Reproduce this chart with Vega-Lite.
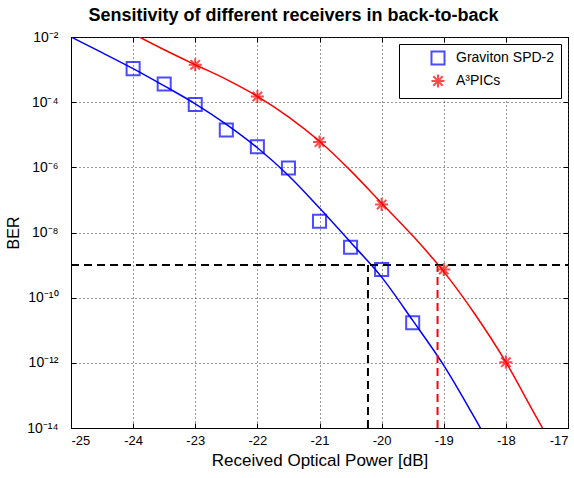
{
  "$schema": "https://vega.github.io/schema/vega-lite/v6.json",
  "width": 497,
  "height": 391,
  "autosize": {"type": "none"},
  "padding": {"left": 71, "top": 37, "right": 6, "bottom": 50},
  "background": "white",
  "title": {"text": "Sensitivity of different receivers in back-to-back", "fontSize": 18, "fontWeight": "bold", "font": "Liberation Sans", "color": "black", "anchor": "middle", "frame": "group", "dx": -26, "offset": 5},
  "config": {
    "font": "Liberation Sans",
    "view": {"stroke": "black"},
    "axis": {"domainColor": "black", "tickColor": "black", "labelColor": "black", "titleColor": "black", "labelFont": "Liberation Sans", "titleFont": "Liberation Sans", "titleFontWeight": "normal"}
  },
  "datasets": {
    "markers": [
      {"series": "Graviton SPD-2", "power": -24, "ber": 1.07e-3},
      {"series": "Graviton SPD-2", "power": -23.5, "ber": 3.6e-4},
      {"series": "Graviton SPD-2", "power": -23, "ber": 8.5e-5},
      {"series": "Graviton SPD-2", "power": -22.5, "ber": 1.4e-5},
      {"series": "Graviton SPD-2", "power": -22, "ber": 4.3e-6},
      {"series": "Graviton SPD-2", "power": -21.5, "ber": 9.5e-7},
      {"series": "Graviton SPD-2", "power": -21, "ber": 2.2e-8},
      {"series": "Graviton SPD-2", "power": -20.5, "ber": 3.5e-9},
      {"series": "Graviton SPD-2", "power": -20, "ber": 7.3e-10},
      {"series": "Graviton SPD-2", "power": -19.5, "ber": 1.7e-11},
      {"series": "A³PICs", "power": -23, "ber": 1.4e-3},
      {"series": "A³PICs", "power": -22, "ber": 1.5e-4},
      {"series": "A³PICs", "power": -21, "ber": 6.0e-6},
      {"series": "A³PICs", "power": -20, "ber": 7.2e-8},
      {"series": "A³PICs", "power": -19, "ber": 7.3e-10},
      {"series": "A³PICs", "power": -18, "ber": 1.05e-12}
    ],
    "curves": [
      {"series": "Graviton SPD-2", "power": -25, "ber": 1e-2},
      {"series": "Graviton SPD-2", "power": -24.5, "ber": 3.31e-3},
      {"series": "Graviton SPD-2", "power": -24, "ber": 1.07e-3},
      {"series": "Graviton SPD-2", "power": -23.5, "ber": 3.16e-4},
      {"series": "Graviton SPD-2", "power": -23, "ber": 8.91e-5},
      {"series": "Graviton SPD-2", "power": -22.5, "ber": 2.09e-5},
      {"series": "Graviton SPD-2", "power": -22, "ber": 3.98e-6},
      {"series": "Graviton SPD-2", "power": -21.5, "ber": 5.62e-7},
      {"series": "Graviton SPD-2", "power": -21, "ber": 5.62e-8},
      {"series": "Graviton SPD-2", "power": -20.5, "ber": 5.01e-9},
      {"series": "Graviton SPD-2", "power": -20, "ber": 4.27e-10},
      {"series": "Graviton SPD-2", "power": -19.5, "ber": 2.0e-11},
      {"series": "Graviton SPD-2", "power": -19, "ber": 8.32e-13},
      {"series": "Graviton SPD-2", "power": -18.5, "ber": 2.0e-14},
      {"series": "Graviton SPD-2", "power": -18.41, "ber": 1e-14},
      {"series": "A³PICs", "power": -23.9, "ber": 1e-2},
      {"series": "A³PICs", "power": -23.5, "ber": 4.07e-3},
      {"series": "A³PICs", "power": -23, "ber": 1.41e-3},
      {"series": "A³PICs", "power": -22.5, "ber": 5.01e-4},
      {"series": "A³PICs", "power": -22, "ber": 1.51e-4},
      {"series": "A³PICs", "power": -21.5, "ber": 3.55e-5},
      {"series": "A³PICs", "power": -21, "ber": 6.31e-6},
      {"series": "A³PICs", "power": -20.5, "ber": 7.94e-7},
      {"series": "A³PICs", "power": -20, "ber": 7.94e-8},
      {"series": "A³PICs", "power": -19.5, "ber": 7.94e-9},
      {"series": "A³PICs", "power": -19, "ber": 6.31e-10},
      {"series": "A³PICs", "power": -18.5, "ber": 3.16e-11},
      {"series": "A³PICs", "power": -18, "ber": 1.05e-12},
      {"series": "A³PICs", "power": -17.5, "ber": 2.0e-14},
      {"series": "A³PICs", "power": -17.41, "ber": 1e-14}
    ],
    "guides": [
      {"line": "threshold", "x": -25, "x2": -17, "y": 1e-9, "y2": 1e-9},
      {"line": "graviton", "x": -20.22, "x2": -20.22, "y": 1e-14, "y2": 1e-9},
      {"line": "a3pics", "x": -19.1, "x2": -19.1, "y": 1e-14, "y2": 1e-9}
    ]
  },
  "layer": [
    {
      "data": {"name": "curves"},
      "transform": [{"filter": "datum.series == 'Graviton SPD-2'"}],
      "mark": {"type": "line", "color": "#0000ff", "strokeWidth": 1.5, "interpolate": "monotone", "clip": true},
      "encoding": {
        "x": {"field": "power", "type": "quantitative", "scale": {"domain": [-25, -17], "nice": false, "zero": false},
          "axis": {"orient": "bottom", "values": [-25, -24, -23, -22, -21, -20, -19, -18, -17], "labelExpr": "datum.value + ''", "title": "Received Optical Power [dB]", "titleFontSize": 17, "labelFontSize": 13, "tickSize": -5, "labelPadding": 11, "titlePadding": 5, "grid": true, "gridDash": [1, 3], "gridColor": "#333333"}},
        "y": {"field": "ber", "type": "quantitative", "scale": {"type": "log", "domain": [1e-14, 1e-2], "nice": false},
          "axis": {"orient": "left", "values": [1e-2, 1e-4, 1e-6, 1e-8, 1e-10, 1e-12, 1e-14], "labelExpr": "round(log(datum.value)/LN10) == -2 ? '10⁻²' : round(log(datum.value)/LN10) == -4 ? '10⁻⁴' : round(log(datum.value)/LN10) == -6 ? '10⁻⁶' : round(log(datum.value)/LN10) == -8 ? '10⁻⁸' : round(log(datum.value)/LN10) == -10 ? '10⁻¹⁰' : round(log(datum.value)/LN10) == -12 ? '10⁻¹²' : '10⁻¹⁴'", "title": "BER", "titleFontSize": 16, "labelFontSize": 14, "tickSize": -5, "labelPadding": 18, "titlePadding": 5, "grid": true, "gridDash": [1, 3], "gridColor": "#333333"}}
      }
    },
    {
      "data": {"name": "curves"},
      "transform": [{"filter": "datum.series == 'A³PICs'"}],
      "mark": {"type": "line", "color": "#ff0000", "strokeWidth": 1.5, "interpolate": "monotone", "clip": true},
      "encoding": {
        "x": {"field": "power", "type": "quantitative", "axis": null},
        "y": {"field": "ber", "type": "quantitative", "axis": null}
      }
    },
    {
      "data": {"name": "guides"},
      "transform": [{"filter": "datum.line != 'a3pics'"}],
      "mark": {"type": "rule", "color": "black", "strokeWidth": 2, "strokeDash": [8, 5]},
      "encoding": {
        "x": {"field": "x", "type": "quantitative", "axis": null},
        "x2": {"field": "x2"},
        "y": {"field": "y", "type": "quantitative", "axis": null},
        "y2": {"field": "y2"}
      }
    },
    {
      "data": {"name": "guides"},
      "transform": [{"filter": "datum.line == 'a3pics'"}],
      "mark": {"type": "rule", "color": "#ff0000", "strokeWidth": 2, "strokeDash": [8, 5]},
      "encoding": {
        "x": {"field": "x", "type": "quantitative", "axis": null},
        "x2": {"field": "x2"},
        "y": {"field": "y", "type": "quantitative", "axis": null},
        "y2": {"field": "y2"}
      }
    },
    {
      "data": {"name": "markers"},
      "mark": {"type": "point", "filled": false, "strokeWidth": 2, "size": 170},
      "encoding": {
        "x": {"field": "power", "type": "quantitative",
          "axis": {"orient": "top", "values": [-25, -24, -23, -22, -21, -20, -19, -18, -17], "labels": false, "domain": false, "grid": false, "tickSize": -5, "title": null}},
        "y": {"field": "ber", "type": "quantitative",
          "axis": {"orient": "right", "values": [1e-2, 1e-4, 1e-6, 1e-8, 1e-10, 1e-12, 1e-14], "labels": false, "domain": false, "grid": false, "tickSize": -5, "title": null}},
        "color": {"field": "series", "type": "nominal",
          "scale": {"domain": ["Graviton SPD-2", "A³PICs"], "range": ["#0000ff", "#ff0000"]},
          "legend": {"title": null, "orient": "top-right", "offset": 7, "strokeColor": "black", "fillColor": "white", "padding": 6, "rowPadding": 1, "labelFontSize": 14, "labelColor": "black", "labelFont": "Liberation Sans", "symbolOffset": 25, "labelOffset": 10, "symbolSize": 170, "symbolStrokeWidth": 2, "cornerRadius": 0}},
        "shape": {"field": "series", "type": "nominal",
          "scale": {"domain": ["Graviton SPD-2", "A³PICs"], "range": ["square", "M0,-1L0,1M-1,0L1,0M-0.72,-0.72L0.72,0.72M-0.72,0.72L0.72,-0.72"]}}
      }
    }
  ],
  "resolve": {"axis": {"x": "independent", "y": "independent"}}
}
